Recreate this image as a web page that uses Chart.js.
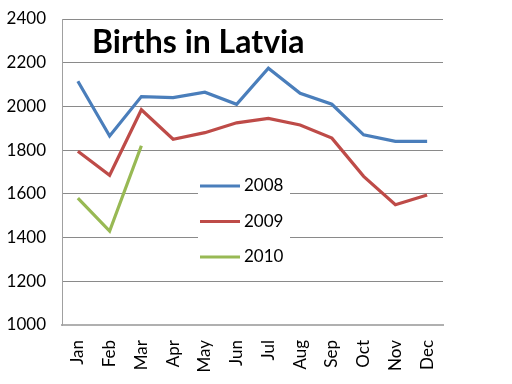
<!DOCTYPE html>
<html>
<head>
<meta charset="utf-8">
<script src="https://cdn.jsdelivr.net/npm/chart.js@4/dist/chart.umd.min.js"></script>
<style>
    html, body { margin: 0; padding: 0; background: #fff; }
    #wrap { width: 512px; height: 384px; }
</style>
</head>
<body>
<div id="wrap"><canvas id="c" width="512" height="384"></canvas></div>
<script>
var months = ['Jan', 'Feb', 'Mar', 'Apr', 'May', 'Jun', 'Jul', 'Aug', 'Sep', 'Oct', 'Nov', 'Dec'];
var births2008 = [2115, 1865, 2045, 2040, 2065, 2010, 2175, 2060, 2010, 1870, 1840, 1840];
var births2009 = [1795, 1685, 1985, 1850, 1880, 1925, 1945, 1915, 1855, 1680, 1550, 1595];
var births2010 = [1580, 1430, 1820];
var yTicks = [1000, 1200, 1400, 1600, 1800, 2000, 2200, 2400];
var chartTitle = 'Births in Latvia';

var FONT = 'Lato, "Open Sans", sans-serif';

// title drawn inside the plot area, legend sits in a white box in the middle
var insideBits = {
    id: 'insideBits',
    beforeDatasetsDraw: function(chart) {
	var a = chart.chartArea, ctx = chart.ctx;
	ctx.save();
	ctx.fillStyle = '#fff';
	ctx.fillRect(a.left + 136, a.top + 146, 92, 105);
	ctx.restore();
    },
    afterDraw: function(chart) {
	var a = chart.chartArea, ctx = chart.ctx;
	ctx.save();
	ctx.fillStyle = '#000';
	ctx.font = 'bold 32px ' + FONT;
	ctx.textBaseline = 'middle';
	ctx.fillText(chartTitle, a.left + 30, a.top + 24);

	ctx.font = '17px ' + FONT;
	chart.data.datasets.forEach(function(ds, i) {
	    var y = a.top + 167 + i * 35.5;
	    ctx.strokeStyle = ds.borderColor;
	    ctx.lineWidth = 3;
	    ctx.beginPath();
	    ctx.moveTo(a.left + 138, y);
	    ctx.lineTo(a.left + 178, y);
	    ctx.stroke();
	    ctx.fillStyle = '#000';
	    ctx.fillText(ds.label, a.left + 182, y);
	});
	ctx.restore();
    }
};

new Chart(document.getElementById('c'), {
    type: 'line',
    data: {
	labels: months,
	datasets: [
	    { label: '2008', data: births2008, borderColor: '#4a7ebb' },
	    { label: '2009', data: births2009, borderColor: '#be4b48' },
	    { label: '2010', data: births2010, borderColor: '#98b954' }
	]
    },
    options: {
	responsive: false,
	animation: false,
	layout: { padding: { top: 19, right: 69, left: 0, bottom: 0 } },
	elements: {
	    line: { borderWidth: 3.2, tension: 0 },
	    point: { radius: 0, hoverRadius: 0 }
	},
	plugins: {
	    legend: { display: false },
	    title: { display: false },
	    tooltip: { enabled: false }
	},
	scales: {
	    x: {
		offset: true,
		grid: { display: false, drawTicks: false, offset: true },
		border: { color: '#b0b0b0', width: 2 },
		ticks: {
		    color: '#000',
		    font: { family: FONT, size: 17 },
		    minRotation: 90,
		    maxRotation: 90,
		    padding: 15
		},
		afterFit: function(scale) {
		    scale.height = 59;
		    scale.paddingLeft = 0;
		    scale.paddingRight = 0;
		}
	    },
	    y: {
		min: 1000,
		max: 2400,
		afterBuildTicks: function(scale) {
		    scale.ticks = yTicks.map(function(v) { return { value: v }; });
		},
		grid: { color: '#8a8a8a', lineWidth: 1, drawTicks: false },
		border: { color: '#a0a0a0', width: 1 },
		ticks: {
		    color: '#000',
		    font: { family: FONT, size: 17 },
		    padding: 16,
		    callback: function(v) { return String(v); }
		},
		afterFit: function(scale) {
		    scale.width = 62;
		    scale.paddingTop = 0;
		    scale.paddingBottom = 0;
		}
	    }
	}
    },
    plugins: [insideBits]
});
</script>
</body>
</html>
